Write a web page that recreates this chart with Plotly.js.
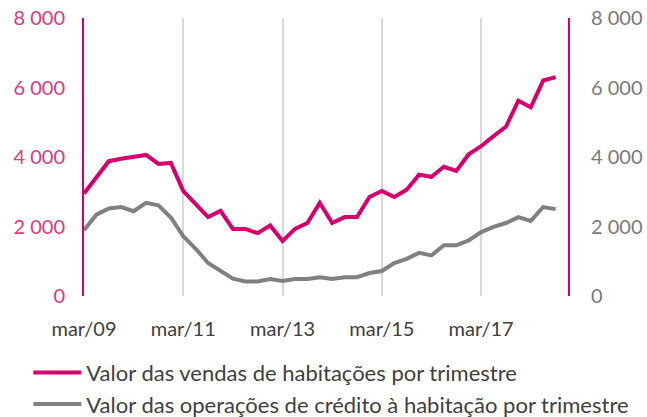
<!DOCTYPE html>
<html>
<head>
<meta charset="utf-8">
<script src="https://cdn.plot.ly/plotly-3.0.1.min.js"></script>
<style>html,body{margin:0;padding:0;background:#fff;}#chart{width:647px;height:417px;}</style>
</head>
<body>
<div id="chart"></div>
<script>
// Quarters from mar/09 to set/18
var quarterIndex = [];
for (var i = 0; i < 39; i++) quarterIndex.push(i);

var tickPositions = [0, 8, 16, 24, 32];
var tickLabels = ["mar/09", "mar/11", "mar/13", "mar/15", "mar/17"];

var yTickValues = [0, 2000, 4000, 6000, 8000];
var yTickLabels = ["0", "2 000", "4 000", "6 000", "8 000"];

var vendas = [2950, 3430, 3880, 3950, 4000, 4060, 3800, 3830, 3020, 2660,
              2270, 2450, 1930, 1930, 1810, 2030, 1580, 1930, 2100, 2680,
              2100, 2270, 2270, 2850, 3020, 2850, 3060, 3490, 3430, 3720,
              3600, 4080, 4310, 4600, 4870, 5620, 5430, 6200, 6300];

var credito = [1890, 2340, 2520, 2560, 2440, 2680, 2610, 2260, 1720, 1360,
               950, 720, 500, 420, 420, 490, 430, 490, 490, 540,
               490, 540, 540, 660, 720, 950, 1070, 1240, 1170, 1460,
               1460, 1600, 1840, 1990, 2100, 2270, 2160, 2560, 2500];

var seriesNames = ["Valor das vendas de habitações por trimestre",
                   "Valor das operações de crédito à habitação por trimestre"];

var pink = "#d5006d";
var grey = "#808080";
var fontFam = "Lato, 'Open Sans', sans-serif";

var traces = [
  {x: quarterIndex, y: vendas, name: seriesNames[0], type: "scatter", mode: "lines",
   line: {color: pink, width: 4}, xaxis: "x", yaxis: "y"},
  {x: quarterIndex, y: credito, name: seriesNames[1], type: "scatter", mode: "lines",
   line: {color: grey, width: 4}, xaxis: "x", yaxis: "y2"}
];

var layout = {
  width: 647, height: 417,
  margin: {l: 84, r: 79, t: 18, b: 121, pad: 0, autoexpand: false},
  paper_bgcolor: "#fff", plot_bgcolor: "#fff",
  font: {family: fontFam, size: 20, color: "#404040"},
  showlegend: true,
  legend: {
    x: -0.115, y: -0.2, xanchor: "left", yanchor: "top",
    orientation: "v", traceorder: "normal",
    font: {family: fontFam, size: 22, color: "#404040"},
    itemwidth: 48, tracegroupgap: 0, bgcolor: "rgba(0,0,0,0)"
  },
  xaxis: {
    range: [0, 39], tickmode: "array", tickvals: tickPositions, ticktext: tickLabels,
    showgrid: true, gridcolor: "#d9d9d9", gridwidth: 2,
    zeroline: false, showline: false,
    ticks: "outside", ticklen: 15, tickcolor: "rgba(0,0,0,0)",
    tickfont: {family: fontFam, size: 20, color: "#404040"}
  },
  yaxis: {
    range: [0, 8000], tickmode: "array", tickvals: yTickValues, ticktext: yTickLabels,
    showgrid: false, zeroline: false,
    showline: true, linecolor: pink, linewidth: 2,
    ticks: "outside", ticklen: 13, tickcolor: "rgba(0,0,0,0)",
    tickfont: {family: fontFam, size: 20, color: "#dc3a7e"}
  },
  yaxis2: {
    range: [0, 8000], overlaying: "y", side: "right", anchor: "x",
    tickmode: "array", tickvals: yTickValues, ticktext: yTickLabels,
    showgrid: false, zeroline: false,
    showline: true, linecolor: pink, linewidth: 2,
    ticks: "outside", ticklen: 17, tickcolor: "rgba(0,0,0,0)",
    tickfont: {family: fontFam, size: 20, color: "#7a7a7a"}
  }
};

Plotly.newPlot("chart", traces, layout, {staticPlot: true, displayModeBar: false});
</script>
</body>
</html>
